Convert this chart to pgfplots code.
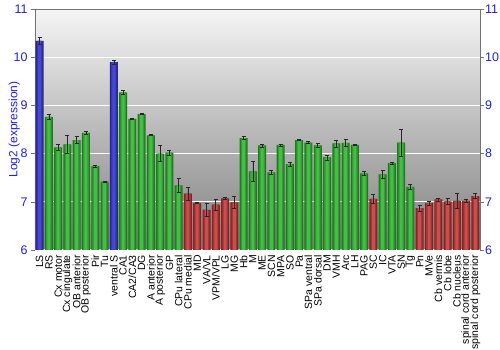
\documentclass[border=0pt]{standalone}
\usepackage{pgfplots}
\pgfplotsset{compat=1.18}
\usepackage{pgfplotstable}
\usepackage{fontspec}
\setmainfont{Liberation Sans}
\definecolor{tickblue}{HTML}{1E1EF0}
\definecolor{blueA}{HTML}{26268E}
\definecolor{blueB}{HTML}{3636B4}
\definecolor{blueC}{HTML}{4848D0}
\definecolor{greenA}{HTML}{1E7A1E}
\definecolor{greenB}{HTML}{2E9E2E}
\definecolor{greenC}{HTML}{48BC48}
\definecolor{redA}{HTML}{862222}
\definecolor{redB}{HTML}{A83232}
\definecolor{redC}{HTML}{C45050}
\pgfplotstableread{
x y e
0 10.34 0.07
8 9.90 0.045
}\bluedata
\pgfplotstableread{
x y e
1 8.76 0.05
2 8.13 0.07
3 8.19 0.18
4 8.28 0.075
5 8.43 0.03
6 7.74 0.02
7 7.42 0.015
9 9.27 0.035
10 8.72 0.01
11 8.82 0.01
12 8.38 0.01
13 8.00 0.17
14 8.02 0.05
15 7.34 0.14
22 8.32 0.03
23 7.63 0.21
24 8.17 0.03
25 7.61 0.04
26 8.18 0.02
27 7.78 0.04
28 8.28 0.01
29 8.23 0.015
30 8.17 0.04
31 7.92 0.05
32 8.21 0.07
33 8.22 0.07
34 8.18 0.01
35 7.59 0.035
37 7.57 0.09
38 7.80 0.015
39 8.23 0.28
40 7.31 0.06
}\greendata
\pgfplotstableread{
x y e
16 7.17 0.14
17 6.97 0.01
18 6.83 0.14
19 6.94 0.12
20 7.07 0.015
21 6.99 0.12
36 7.06 0.09
41 6.87 0.065
42 6.97 0.05
43 7.05 0.03
44 7.01 0.065
45 7.02 0.16
46 7.02 0.035
47 7.12 0.055
}\reddata
\begin{document}
\begin{tikzpicture}
\pgfplotsset{
  myerr/.style={error bars/.cd, y dir=both, y explicit,
    error bar style={black!85, line width=0.6pt},
    error mark options={rotate=90, black!85, mark size=2bp, line width=0.6pt}},
  lay1/.style={draw=none, fill=#1, bar width=8.0bp},
  lay2/.style={draw=none, fill=#1, bar width=5.6bp},
  lay3/.style={draw=none, fill=#1, bar width=3.0bp},
}
\begin{axis}[
  name=ax,
  scale only axis, width=445bp, height=241bp,
  xmin=-0.5, xmax=47.5, ymin=6, ymax=11,
  axis background/.style={top color=black!4, bottom color=black!50},
  axis y line*=left, axis x line*=bottom,
  x axis line style={draw=none},
  y axis line style={draw=black!55, line width=0.8pt},
  ytick={6,7,8,9,10,11},
  ymajorgrids, grid style={white, line width=1.2pt},
  /pgf/number format/assume math mode=true,
  yticklabel style={text=tickblue, font=\fontsize{12.5}{12.5}\selectfont},
  ytick style={draw=black!55},
  tick align=outside, major tick length=4bp,
  ylabel={Log2 (expression)},
  ylabel style={text=tickblue, font=\fontsize{12}{12}\selectfont},
  ylabel shift=-13bp,
  xtick={0,...,47}, x tick style={draw=none},
  xticklabels={LS,RS,Cx motor,Cx cingulate,OB anterior,OB posterior,Pir,Tu,ventral S,CA1,CA2/CA3,DG,A anterior,A posterior,GP,CPu lateral,CPu medial,MD,VA/VL,VPM/VPL,LG,MG,Hb,M,ME,SCN,MPA,SO,Pa,SPa ventral,SPa dorsal,DM,VMH,Arc,LH,PAG,SC,IC,VTA,SN,Tg,Pn,MVe,Cb vermis,Cb lobe,Cb nucleus,spinal cord anterior,spinal cord posterior},
  xticklabel style={rotate=90, anchor=east, font=\fontsize{10.5}{10.5}\selectfont, inner sep=1pt},
  ybar, bar shift=0pt,
  clip=false,
]
\addplot[lay1=blueA] table[x=x, y=y]{\bluedata};
\addplot[lay2=blueB] table[x=x, y=y]{\bluedata};
\addplot[lay3=blueC, myerr] table[x=x, y=y, y error=e]{\bluedata};
\addplot[lay1=greenA] table[x=x, y=y]{\greendata};
\addplot[lay2=greenB] table[x=x, y=y]{\greendata};
\addplot[lay3=greenC, myerr] table[x=x, y=y, y error=e]{\greendata};
\addplot[lay1=redA] table[x=x, y=y]{\reddata};
\addplot[lay2=redB] table[x=x, y=y]{\reddata};
\addplot[lay3=redC, myerr] table[x=x, y=y, y error=e]{\reddata};
\end{axis}
\begin{axis}[
  scale only axis, width=445bp, height=241bp,
  xmin=-0.5, xmax=47.5, ymin=6, ymax=11,
  axis y line*=right, axis x line*=top,
  axis line style={draw=black!55, line width=0.8pt},
  xtick=\empty,
  ytick={6,7,8,9,10,11},
  /pgf/number format/assume math mode=true,
  yticklabel style={text=tickblue, font=\fontsize{12.5}{12.5}\selectfont, inner sep=1bp},
  ytick style={draw=black!55},
  tick align=outside, major tick length=4bp,
]
\end{axis}
\pgfresetboundingbox
\path (ax.south west) ++(-35bp,-100bp) coordinate (bl);
\path (ax.north east) ++(20bp,9bp) coordinate (tr);
\useasboundingbox (bl) rectangle (tr);
\end{tikzpicture}
\end{document}
